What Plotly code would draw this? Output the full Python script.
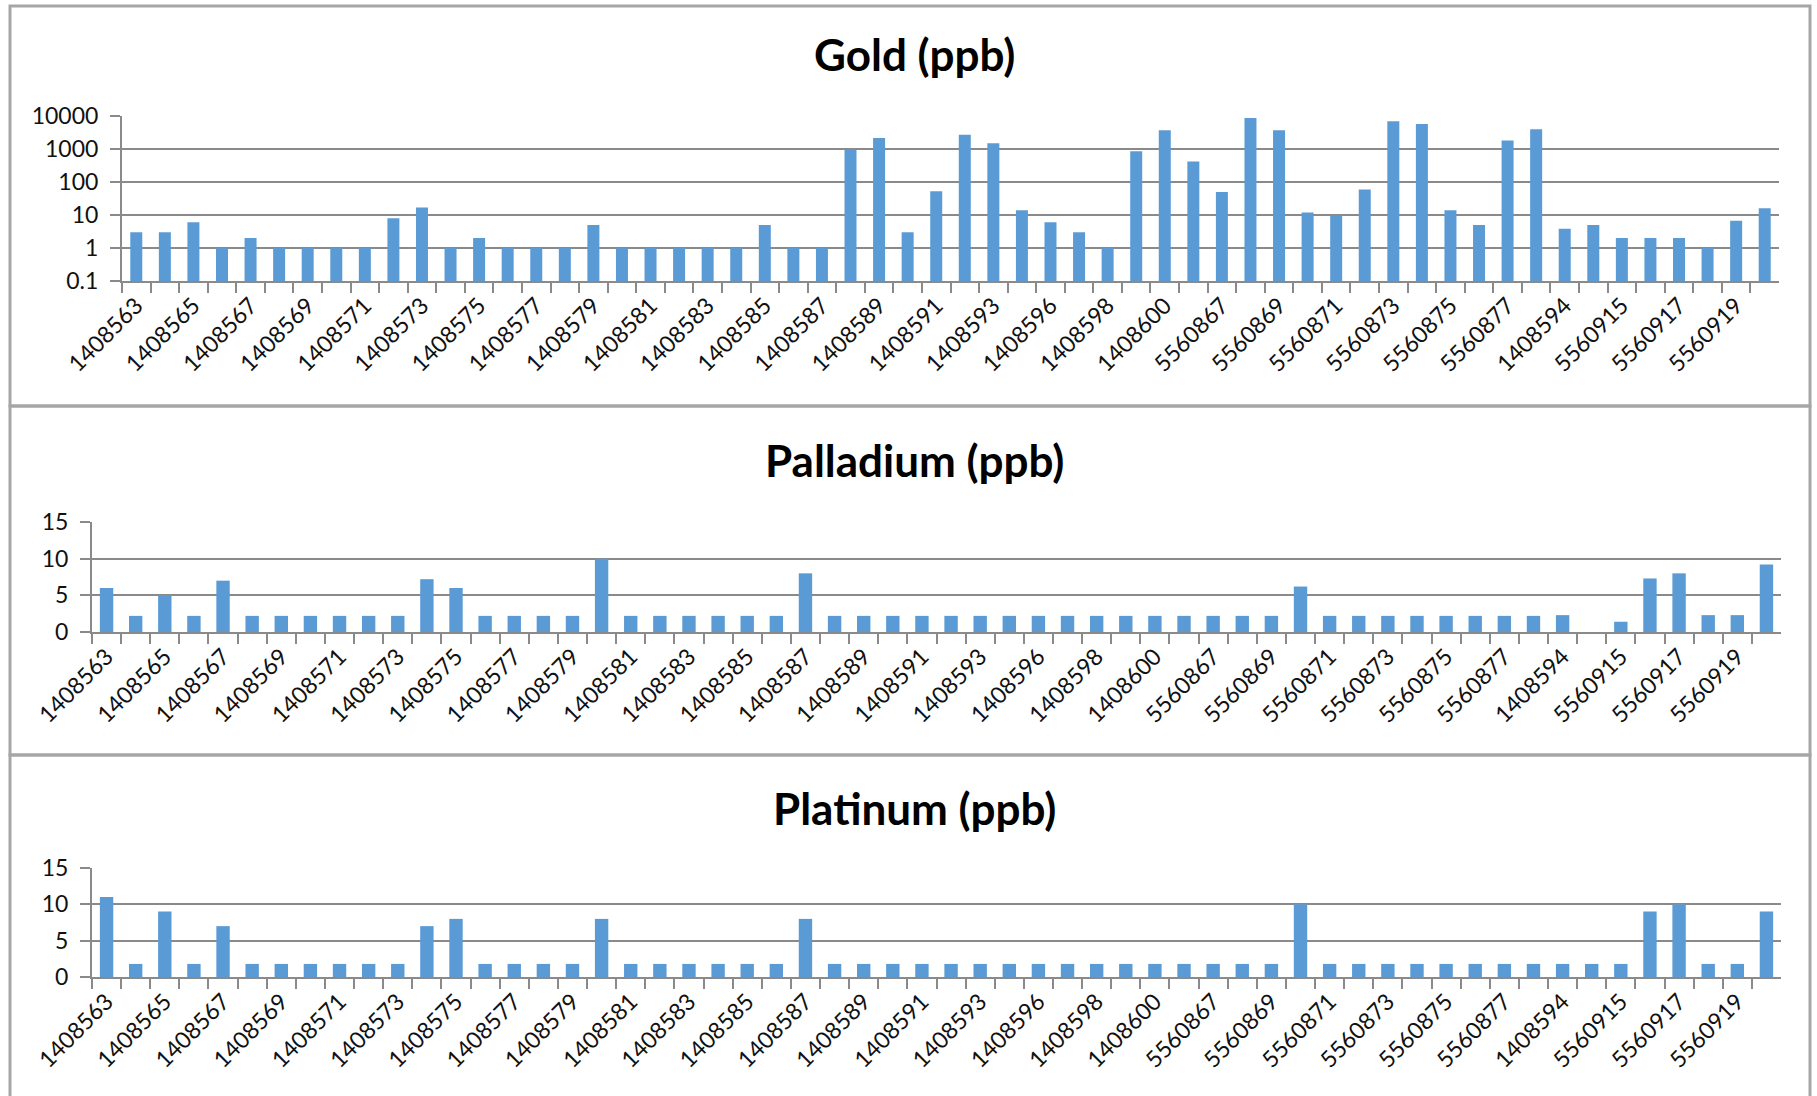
import plotly.graph_objects as go

categories = [
    "1408563", "1408564", "1408565", "1408566", "1408567", "1408568", "1408569", "1408570",
    "1408571", "1408572", "1408573", "1408574", "1408575", "1408576", "1408577", "1408578",
    "1408579", "1408580", "1408581", "1408582", "1408583", "1408584", "1408585", "1408586",
    "1408587", "1408588", "1408589", "1408590", "1408591", "1408592", "1408593", "1408595",
    "1408596", "1408597", "1408598", "1408599", "1408600", "1408601", "5560867", "5560868",
    "5560869", "5560870", "5560871", "5560872", "5560873", "5560874", "5560875", "5560876",
    "5560877", "5560878", "1408594", "5560914", "5560915", "5560916", "5560917", "5560918",
    "5560919", "5560920",
]

gold_ppb = [
    3, 3, 6, 1, 2, 1, 1, 1, 1, 8,
    17, 1, 2, 1, 1, 1, 5, 1, 1, 1,
    1, 1, 5, 1, 1, 950, 2150, 3, 52, 2700,
    1500, 14, 6, 3, 1, 850, 3700, 420, 50, 8700,
    3700, 12, 9.5, 59, 6900, 5700, 14, 5, 1800, 4000,
    3.8, 5, 2, 2, 2, 1, 6.7, 16,
]

palladium_ppb = [
    6, 2.2, 5, 2.2, 7, 2.2, 2.2, 2.2, 2.2, 2.2,
    2.2, 7.2, 6, 2.2, 2.2, 2.2, 2.2, 10, 2.2, 2.2,
    2.2, 2.2, 2.2, 2.2, 8, 2.2, 2.2, 2.2, 2.2, 2.2,
    2.2, 2.2, 2.2, 2.2, 2.2, 2.2, 2.2, 2.2, 2.2, 2.2,
    2.2, 6.2, 2.2, 2.2, 2.2, 2.2, 2.2, 2.2, 2.2, 2.2,
    2.3, None, 1.4, 7.3, 8, 2.3, 2.3, 9.2,
]

platinum_ppb = [
    11, 1.8, 9, 1.8, 7, 1.8, 1.8, 1.8, 1.8, 1.8,
    1.8, 7, 8, 1.8, 1.8, 1.8, 1.8, 8, 1.8, 1.8,
    1.8, 1.8, 1.8, 1.8, 8, 1.8, 1.8, 1.8, 1.8, 1.8,
    1.8, 1.8, 1.8, 1.8, 1.8, 1.8, 1.8, 1.8, 1.8, 1.8,
    1.8, 10, 1.8, 1.8, 1.8, 1.8, 1.8, 1.8, 1.8, 1.8,
    1.8, 1.8, 1.8, 9, 10, 1.8, 1.8, 9,
]

titles = ["Gold (ppb)", "Palladium (ppb)", "Platinum (ppb)"]
gold_ticks = [0.1, 1, 10, 100, 1000, 10000]
gold_tick_text = ["0.1", "1", "10", "100", "1000", "10000"]
linear_ticks = [0, 5, 10, 15]

# every other category is labelled
x_tick_text = [c if i % 2 == 0 else "" for i, c in enumerate(categories)]

W, H = 1817, 1096
BAR = "#5B9BD5"
GRID = "#8a8a8a"
FONT = "Lato"
TXT = "#111111"

def px(x):
    return x / W

def py(y):
    return 1 - y / H

fig = go.Figure()
series = [gold_ppb, palladium_ppb, platinum_ppb]
for i, vals in enumerate(series):
    sfx = "" if i == 0 else str(i + 1)
    fig.add_trace(go.Bar(
        x=categories, y=vals, xaxis="x" + sfx, yaxis="y" + sfx,
        marker=dict(color=BAR, line=dict(width=0)),
        width=0.42 if i == 0 else 0.46,
        showlegend=False, hoverinfo="x+y",
    ))

panels = [
    dict(x=(122, 1779), y=(116, 281)),
    dict(x=(92, 1781), y=(522, 632)),
    dict(x=(92, 1781), y=(868, 977)),
]

layout = dict(
    width=W, height=H, autosize=False,
    margin=dict(l=0, r=0, t=0, b=0, pad=0, autoexpand=False),
    paper_bgcolor="white", plot_bgcolor="white",
    font=dict(family=FONT, color=TXT, size=23),
    shapes=[], annotations=[],
)

for i, p in enumerate(panels):
    sfx = "" if i == 0 else str(i + 1)
    xa = dict(
        domain=[px(p["x"][0]), px(p["x"][1])],
        anchor="y" + sfx,
        type="category",
        categoryorder="array", categoryarray=categories,
        range=[-0.5, len(categories) - 0.5],
        tickmode="array", tickvals=categories, ticktext=x_tick_text,
        tickson="boundaries",
        ticks="outside", ticklen=10, tickwidth=1.5, tickcolor=GRID,
        tickangle=-45,
        tickfont=dict(family=FONT, size=23, color=TXT),
        showline=True, linecolor=GRID, linewidth=2,
        showgrid=False, zeroline=False,
        automargin=False,
        fixedrange=True,
    )
    ya = dict(
        domain=[py(p["y"][1]), py(p["y"][0])],
        anchor="x" + sfx,
        showgrid=True, gridcolor=GRID, gridwidth=2,
        ticks="outside", ticklen=10, tickwidth=1.5, tickcolor=GRID,
        ticklabelstandoff=7,
        showline=True, linecolor=GRID, linewidth=2,
        zeroline=False,
        tickfont=dict(family=FONT, size=23, color=TXT),
        automargin=False,
        fixedrange=True,
    )
    if i == 0:
        ya.update(type="log", range=[-1, 4], tickmode="array",
                  tickvals=gold_ticks, ticktext=gold_tick_text)
    else:
        ya.update(range=[0, 15], tickmode="array", tickvals=linear_ticks)
    layout["xaxis" + sfx] = xa
    layout["yaxis" + sfx] = ya

title_y = [54, 460, 808]
for t, ty in zip(titles, title_y):
    layout["annotations"].append(dict(
        text="<b>" + t + "</b>", xref="paper", yref="paper",
        x=px(914), y=py(ty), xanchor="center", yanchor="middle",
        showarrow=False, font=dict(family=FONT, size=44, color="#000000"),
    ))

frames = [(6, 406), (406, 755), (755, 1100)]
for (t, b) in frames:
    layout["shapes"].append(dict(
        type="rect", xref="paper", yref="paper",
        x0=px(10), x1=px(1810), y0=py(b), y1=py(t),
        line=dict(color="#a6a6a6", width=3), fillcolor="rgba(0,0,0,0)",
        layer="below",
    ))

fig.update_layout(**layout)
fig.write_html(
    "out.html",
    config={"displayModeBar": False},
    post_script="document.body.style.margin='0px';document.body.style.overflow='hidden';",
)
